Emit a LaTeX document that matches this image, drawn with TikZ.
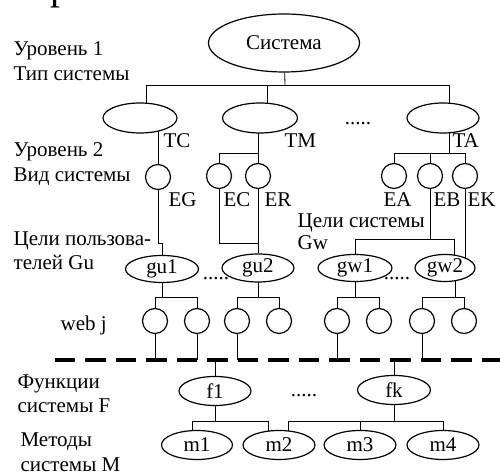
\documentclass[tikz,border=0pt]{standalone}
\usepackage{fontspec}
\setmainfont{Liberation Serif}
\usetikzlibrary{shapes.geometric,backgrounds}
\tikzset{
  ell/.style={ellipse,draw,fill=white,inner sep=0pt,minimum width=36.5pt,minimum height=14.5pt},
  circ/.style={circle,draw,fill=white,inner sep=0pt,minimum size=12.5pt},
  txt/.style={anchor=base west,inner sep=0pt},
  dots/.style={anchor=base,inner sep=0pt},
  sepline/.style={line width=2pt,dash pattern=on 10.25pt off 5pt}
}
\begin{document}
\begin{tikzpicture}[x=0.5pt,y=-0.5pt,line width=0.6pt,font=\fontsize{10.5}{12}\selectfont]
\useasboundingbox (0,0) rectangle (500,474);
% level 1
\node[ell,minimum width=75.5pt,minimum height=29pt] (sys) at (284,43) {Система};
\node[ell,minimum width=37pt,minimum height=15pt] (t1) at (140,118) {};
\node[ell,minimum width=37.5pt,minimum height=15pt] (t2) at (260,118) {};
\node[ell,minimum width=36pt,minimum height=15pt] (t3) at (443,118) {};
% level 2
\node[circ] (eg) at (158,177) {};
\node[circ] (ec) at (219,176) {};
\node[circ] (er) at (258,176) {};
\node[circ] (ea) at (394,176) {};
\node[circ] (eb) at (430,176) {};
\node[circ] (ek) at (465,176) {};
% goals
\node[ell,minimum height=13.5pt] (gu1) at (162,269) {gu1};
\node[ell,minimum width=36pt,minimum height=14pt] (gu2) at (258,268) {gu2};
\node[ell,minimum width=37pt,minimum height=13.5pt] (gw1) at (355,268) {gw1};
\node[ell,minimum width=30pt,minimum height=13.5pt] (gw2) at (445,268) {gw2};
\foreach \x [count=\i] in {155,197,237,279,337,379,422,464}
  \node[circ] (w\i) at (\x,321) {};
% functions, methods
\node[ell,minimum width=36pt] (f1) at (215,391) {f1};
\node[ell] (fk) at (394,390) {fk};
\node[ell,minimum width=35.5pt] (m1) at (197,445) {m1};
\node[ell,minimum width=36pt] (m2) at (279,445) {m2};
\node[ell,minimum width=36pt] (m3) at (360,445) {m3};
\node[ell,minimum width=36pt] (m4) at (443,445) {m4};

\coordinate (bus) at (285,85);
\coordinate (b2) at (0,153);
\coordinate (b3) at (0,243);
\coordinate (b4) at (0,239);
\coordinate (b5) at (0,297);
\coordinate (sep) at (55,360);
\coordinate (sepend) at (500,360);
\coordinate (b6) at (0,421);

\begin{scope}[on background layer]
\draw (sys) -- (bus);
\draw ([xshift=3pt]t1.center) |- (bus) -| ([xshift=3pt]t3.center);
\draw ([xshift=3.5pt]t2.center) -- ([xshift=3.5pt]t2.center |- bus);
\draw (eg) -- (eg |- t1);
\draw (er) -- (er |- t2);
\draw (ec) |- (er |- b2);
\draw ([xshift=3pt]t3.center) -- ([xshift=3pt]t3.center |- b2);
\draw (ea) |- (ek |- b2) -- (ek);
\draw (eb) -- (eb |- b2);
\draw (eg) -- (eg |- b3) -| (gu1);
\draw (ec) |- (er |- b3);
\draw (er) -- (gu2);
\draw (eb) -- (eb |- b4);
\draw (gw1) |- ([xshift=4.5pt]gw2.center |- b4) -- ([xshift=4.5pt]gw2.center);
\draw (ek) -- (ek |- gw2);
\foreach \g/\s/\a/\b in {gu1/0/w1/w2,gu2/0/w3/w4,gw1/0/w5/w6,gw2/5/w7/w8}{
  \draw ([xshift=\s pt]\g.center) -- ([xshift=\s pt]\g.center |- b5);
  \draw (\a) |- (\b |- b5) -- (\b);
}
\foreach \w in {w1,w2,w3,w5,w7}
  \draw (\w) -- (\w |- sep);
\draw (f1) -- (f1 |- sep);
\draw (fk) -- (fk |- sep);
\draw[sepline] (sep) -- (sepend);
\draw (f1) -- (f1 |- b6);
\draw ([xshift=-2.5pt]m1.center) |- ([xshift=-5.5pt]m2.center |- b6) -- ([xshift=-5.5pt]m2.center);
\draw (fk) -- (fk |- b6);
\draw ([xshift=4.5pt]m2.center) |- (m4 |- b6) -- (m4);
\draw (m3) -- (m3 |- b6);
\end{scope}

% connector labels
\node[txt] (lTC) at (163,148) {TC};
\node[txt] (lTM) at (284,148) {TM};
\node[txt] (lTA) at (452,148) {TA};
\node[txt] (lEG) at (168,207) {EG};
\node[txt] (lEC) at (223,207) {EC};
\node[txt] (lER) at (264,207) {ER};
\node[txt] (lEA) at (383,207) {EA};
\node[txt] (lEB) at (433,207) {EB};
\node[txt] (lEK) at (467,207) {EK};
\node[txt] (lGw1) at (297,228) {Цели системы};
\node[txt] (lGw2) at (297,250) {Gw};
\node[dots] (d1) at (358,125) {.....};
\node[dots] (d2) at (216,280) {.....};
\node[dots] (d3) at (397,280) {.....};
\node[dots] (d4) at (304,397) {.....};
% left column
\node[anchor=base,inner sep=0pt,font=\fontsize{20}{20}\selectfont] (frag) at (60,0) {р};
\node[txt] (lv1) at (13,56) {Уровень 1};
\node[txt] (lv1b) at (13,81) {Тип системы};
\node[txt] (lv2) at (13,157) {Уровень 2};
\node[txt] (lv2b) at (13,182) {Вид системы};
\node[txt] (gu) at (13,246) {Цели пользова-};
\node[txt] (gub) at (13,270) {телей Gu};
\node[txt] (web) at (60,331) {web j};
\node[txt] (fn) at (17,389) {Функции};
\node[txt] (fnb) at (17,413) {системы F};
\node[txt] (mt) at (20,447) {Методы};
\node[txt] (mtb) at (20,472) {системы М};
\end{tikzpicture}
\end{document}
